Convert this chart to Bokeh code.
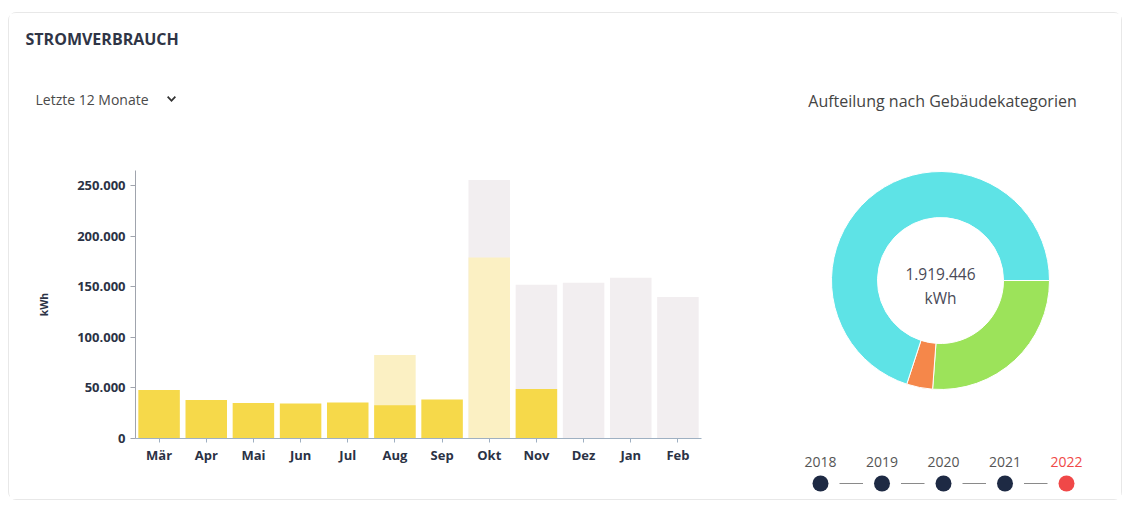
import math
from bokeh.plotting import figure
from bokeh.models import (FactorRange, Range1d, FixedTicker, CustomJSTickFormatter,
                          ColumnDataSource)
from bokeh.layouts import row, column
from bokeh.core.properties import value
from bokeh.embed import file_html
from bokeh.resources import INLINE

# ---------------- data ----------------
months = ["Mär", "Apr", "Mai", "Jun", "Jul", "Aug", "Sep", "Okt", "Nov", "Dez", "Jan", "Feb"]
current_kwh = [48000, 38000, 35000, 34500, 35500, 33000, 38500, 0, 49000, 0, 0, 0]
partial_kwh = [0, 0, 0, 0, 0, 82500, 0, 179000, 0, 0, 0, 0]
previous_kwh = [0, 0, 0, 0, 0, 0, 0, 255500, 152000, 154000, 159000, 140000]
y_ticks = [0, 50000, 100000, 150000, 200000, 250000]

category_names = ["Kategorie 1", "Kategorie 2", "Kategorie 3"]
category_kwh = [502000, 74000, 1343446]
category_colors = ["#9ce35a", "#f5874a", "#5ee3e6"]
total_label = "1.919.446"

years = ["2018", "2019", "2020", "2021", "2022"]
selected_year = "2022"

FONT = value("Open Sans")
DARK = "#2b3245"

W_L, W_R, H = 770, 342, 486
H_HEAD = 120

# ---------------- header (title + period selector) ----------------
h = figure(width=W_L, height=H_HEAD, x_range=Range1d(0, W_L), y_range=Range1d(0, H_HEAD),
           output_backend="svg", toolbar_location=None, min_border=0,
           x_axis_type=None, y_axis_type=None)
h.grid.grid_line_color = None
h.outline_line_color = None
h.text(x=[16], y=[95], text=["STROMVERBRAUCH"], text_font=FONT, text_font_style="bold",
       text_font_size="16px", text_color="#2f3546", text_baseline="middle")
h.text(x=[26], y=[34], text=["Letzte 12 Monate"], text_font=FONT, text_font_size="14px",
       text_color="#4a4a4a", text_baseline="middle")
cxv, cyv = 162, 34
h.patch(x=[cxv - 4.5, cxv, cxv + 4.5, cxv + 3.2, cxv, cxv - 3.2],
        y=[cyv + 2.2, cyv - 2.4, cyv + 2.2, cyv + 3.5, cyv - 0.1, cyv + 3.5],
        fill_color="#333333", line_color=None)

# ---------------- bar chart ----------------
BL, BR, BT, BB = 126, 78, 157 - H_HEAD, 61
Y_MAX = 265000
p = figure(width=W_L, height=H - H_HEAD, x_range=FactorRange(*months, range_padding=0),
           y_range=Range1d(0, Y_MAX), output_backend="svg", toolbar_location=None,
           min_border_left=BL, min_border_right=BR, min_border_top=BT, min_border_bottom=BB)
p.outline_line_color = None
p.grid.grid_line_color = None

src = ColumnDataSource(dict(m=months, cur=current_kwh, par=partial_kwh, prev=previous_kwh))
p.vbar(x="m", top="prev", width=0.88, source=src, fill_color="#f2eef0", line_color=None)
p.vbar(x="m", top="par", width=0.88, source=src, fill_color="#fbf0c3", line_color=None)
p.vbar(x="m", top="cur", width=0.88, source=src, fill_color="#f6d94a", line_color=None)

ya = p.yaxis[0]
ya.ticker = FixedTicker(ticks=y_ticks)
ya.formatter = CustomJSTickFormatter(code="""
return Math.round(tick).toString().replace(/\\B(?=(\\d{3})+(?!\\d))/g, '.');
""")
ya.axis_label = "kWh"
ya.axis_label_text_font = "Open Sans"
ya.axis_label_text_font_style = "bold"
ya.axis_label_text_font_size = "10.5px"
ya.axis_label_text_color = DARK
ya.axis_label_standoff = 23
ya.major_label_text_font = "Open Sans"
ya.major_label_text_font_style = "bold"
ya.major_label_text_font_size = "13px"
ya.major_label_text_color = DARK
ya.major_tick_out = 5
ya.major_tick_in = 0
ya.minor_tick_line_color = None
ya.axis_line_color = "#a0a4ad"
ya.major_tick_line_color = "#a0a4ad"

xa = p.xaxis[0]
xa.major_label_text_font = "Open Sans"
xa.major_label_text_font_style = "bold"
xa.major_label_text_font_size = "13px"
xa.major_label_text_color = DARK
xa.major_label_standoff = 3
xa.major_tick_out = 4
xa.major_tick_in = 0
xa.axis_line_color = "#9fb0c2"
xa.major_tick_line_color = "#9fb0c2"

# ---------------- donut + timeline ----------------
q = figure(width=W_R, height=H, x_range=Range1d(0, W_R), y_range=Range1d(0, H),
           output_backend="svg", toolbar_location=None, min_border=0,
           x_axis_type=None, y_axis_type=None)
q.grid.grid_line_color = None
q.outline_line_color = None

cx, cy = 161, 219
tot = sum(category_kwh)
starts, ends = [], []
acc = 0.0
for v in category_kwh:
    starts.append(-2 * math.pi * acc / tot)
    acc += v
    ends.append(-2 * math.pi * acc / tot)
dsrc = ColumnDataSource(dict(name=category_names, s=starts, e=ends, c=category_colors))
q.annular_wedge(x=cx, y=cy, inner_radius=63, outer_radius=109, start_angle="s", end_angle="e",
                direction="clock", fill_color="c", line_color="white", line_width=1, source=dsrc)

q.text(x=[163], y=[399], text=["Aufteilung nach Gebäudekategorien"], text_font=FONT,
       text_font_size="16px", text_color="#444444", text_align="center", text_baseline="middle")
q.text(x=[cx, cx], y=[cy + 7, cy - 17], text=[total_label, "kWh"], text_font=FONT,
       text_font_size="15.5px", text_color="#4a4a58", text_align="center", text_baseline="middle")

yx = [41 + 61.5 * i for i in range(len(years))]
ycol = ["#f04848" if y == selected_year else "#555555" for y in years]
dcol = ["#f04848" if y == selected_year else "#1e2a44" for y in years]
q.segment(x0=[x + 19 for x in yx[:-1]], y0=[16] * (len(yx) - 1),
          x1=[x - 19 for x in yx[1:]], y1=[16] * (len(yx) - 1),
          line_color="#8a8a8a", line_width=1)
q.scatter(x=yx, y=[16] * len(yx), size=16, fill_color=dcol, line_color=None)
q.text(x=yx, y=[38] * len(yx), text=years, text_font=FONT, text_font_size="14px",
       text_color=ycol, text_align="center", text_baseline="middle")

layout = row(column(column(h), p), column(q),
             styles={"border": "1px solid #e8e8e8", "border-radius": "8px",
                     "margin-left": "8px", "margin-top": "12px"})
open("out.html", "w").write(file_html(layout, INLINE))
